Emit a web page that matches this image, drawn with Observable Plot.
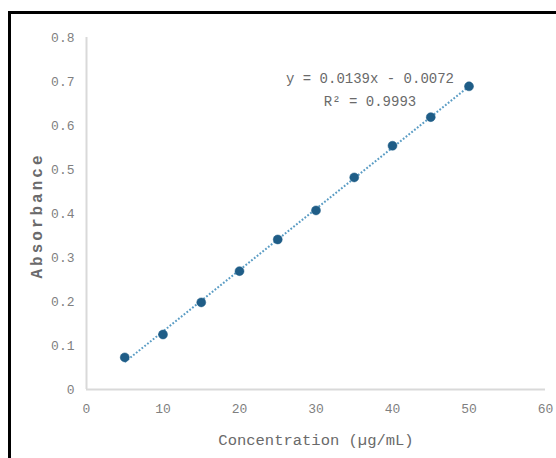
<!DOCTYPE html>
<html>
<head>
<meta charset="utf-8">
<script src="https://cdn.jsdelivr.net/npm/d3@7"></script>
<script src="https://cdn.jsdelivr.net/npm/@observablehq/plot@0.6"></script>
<style>
  html, body { margin: 0; padding: 0; background: #fff; overflow: hidden; }
  #wrap { position: relative; width: 556px; height: 458px; }
  #box { position: absolute; left: 8px; top: 11px; width: 700px; height: 700px;
         border-left: 3px solid #000; border-top: 3px solid #000; box-sizing: border-box; }
  #chart { position: absolute; left: 0; top: 0; }
</style>
</head>
<body>
<div id="wrap"><div id="box"></div><div id="chart"></div></div>
<script>
const concentration = [5, 10, 15, 20, 25, 30, 35, 40, 45, 50];
const absorbance = [0.073, 0.125, 0.198, 0.269, 0.341, 0.407, 0.482, 0.554, 0.619, 0.689];
const xTicks = [0, 10, 20, 30, 40, 50, 60];
const yTicks = [0, 0.1, 0.2, 0.3, 0.4, 0.5, 0.6, 0.7, 0.8];
const yTickLabels = ["0", "0.1", "0.2", "0.3", "0.4", "0.5", "0.6", "0.7", "0.8"];
const equationLines = ["y = 0.0139x - 0.0072", "R\u00B2 = 0.9993"];
const xTitle = "Concentration (\u00B5g/mL)";
const yTitle = "Absorbance";

const data = concentration.map((c, i) => ({c, a: absorbance[i]}));
const font = "'Liberation Mono', 'DejaVu Sans Mono', monospace";
const gridGray = "#d9d9d9";
const textGray = "#7f7f7f";
const trendColor = "#5a9cc4";
const titleGray = "#6a6a6b";

const chart = Plot.plot({
  width: 556,
  height: 458,
  marginLeft: 86,
  marginRight: 11,
  marginTop: 37,
  marginBottom: 69,
  style: {fontFamily: font, background: "transparent", overflow: "visible"},
  x: {domain: [0, 60]},
  y: {domain: [0, 0.8]},
  marks: [
    Plot.ruleX([0], {stroke: gridGray, strokeWidth: 2}),
    Plot.ruleY([0], {stroke: gridGray, strokeWidth: 2}),
    Plot.axisX(xTicks, {tickSize: 0, tickPadding: 14, fontSize: 13, fill: textGray, label: null}),
    Plot.axisY(yTicks, {tickSize: 0, tickPadding: 12, fontSize: 13, fill: textGray, label: null,
      tickFormat: (d, i) => yTickLabels[i]}),
    Plot.linearRegressionY(data, {x: "c", y: "a", ci: 0, stroke: trendColor, strokeWidth: 2,
      strokeDasharray: "1.8,1.8"}),
    Plot.dot(data, {x: "c", y: "a", r: 4.5, fill: "#1f5d87", stroke: "#1f5d87", strokeWidth: 0.5}),
    Plot.text([equationLines.join("\n")], {frameAnchor: "top", dx: 54, dy: 50, lineHeight: 1.65,
      fontSize: 14, fill: "#6a6a6a", lineAnchor: "middle"}),
    Plot.text([xTitle], {frameAnchor: "bottom", dy: 51, fontSize: 15.5, fill: "#6a6a6a", lineAnchor: "middle"}),
    Plot.text([yTitle], {frameAnchor: "left", dx: -50, dy: 2, rotate: -90, fontSize: 16, fontWeight: "bold",
      fill: titleGray, textAnchor: "middle", lineAnchor: "middle"})
  ]
});
d3.select(chart).selectAll(`[stroke="${trendColor}"]`)
  .attr("stroke-dasharray", "1.8,1.8").attr("stroke-linecap", "butt");
d3.select(chart).selectAll("text").filter(function() { return this.textContent === yTitle; })
  .attr("letter-spacing", "3px");
document.getElementById("chart").appendChild(chart);
</script>
</body>
</html>
